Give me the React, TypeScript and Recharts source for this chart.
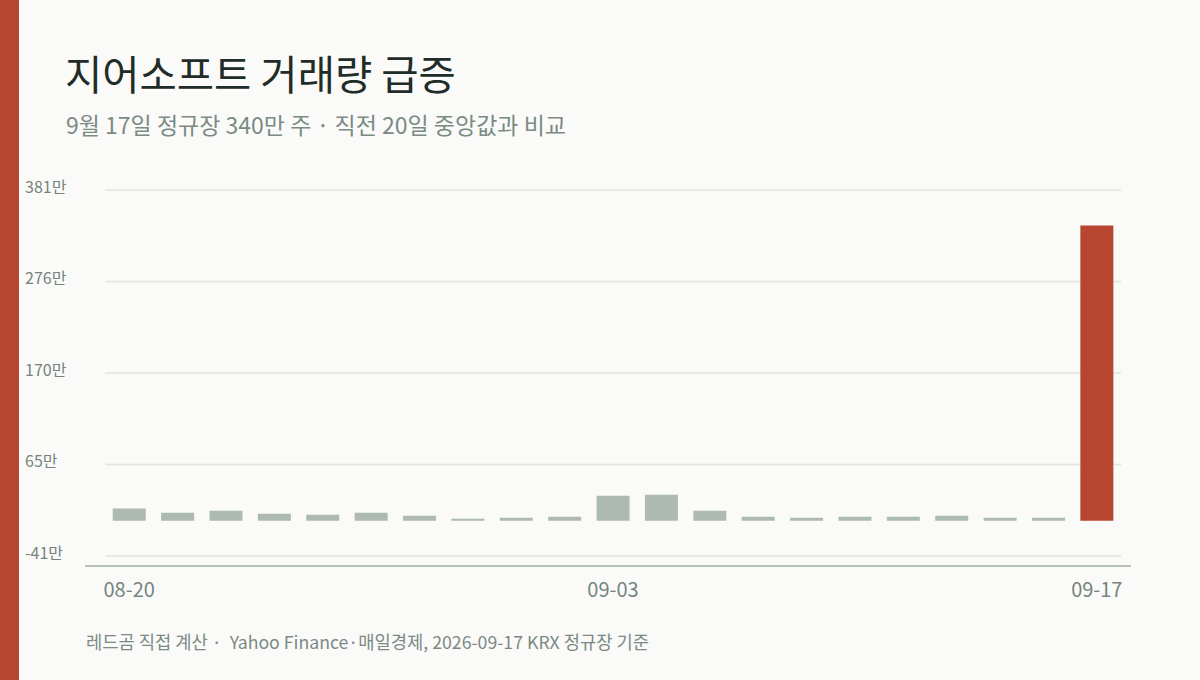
import React from "react"
import { Bar, BarChart, CartesianGrid, Cell, XAxis, YAxis } from "recharts"

// 정규장 거래량 (단위: 만 주)
const dates = [
  "08-20", "08-21", "08-24", "08-25", "08-26", "08-27", "08-28", "08-31",
  "09-01", "09-02", "09-03", "09-04", "09-07", "09-08", "09-09", "09-10",
  "09-11", "09-14", "09-15", "09-16", "09-17",
]
const volumes = [
  14, 9.2, 11.6, 8.1, 6.9, 9.2, 5.8, 2.3, 3.5, 4.6,
  28.9, 30, 11.6, 4.6, 3.5, 4.6, 4.6, 5.8, 3.5, 3.5, 340,
]
const highlightDate = "09-17"
const yTicks = [-40.6, 64.8, 170.2, 275.6, 381]
const yDomain = [-52.1, 381]

const data = dates.map((d, i) => ({ date: d, volume: volumes[i] }))

const FONT = '"Noto Sans CJK KR", "Noto Sans", sans-serif'
const RED = "#b8452f"
const GRAY = "#adbab2"

const YTick = (props: any) => {
  const { y, payload } = props
  return (
    <text x={25} y={y - 3} dy="0.35em" textAnchor="start" fontSize={16} fill="#75857e" fontFamily={FONT}>
      {Math.round(payload.value)}만
    </text>
  )
}

export default function App() {
  return (
    <div
      style={{
        position: "absolute",
        left: 0,
        top: 0,
        width: 1200,
        height: 680,
        background: "#fafaf8",
        fontFamily: FONT,
        overflow: "hidden",
      }}
    >
      <div style={{ position: "absolute", left: 0, top: 0, width: 19, height: 680, background: RED }} />
      <div
        style={{
          position: "absolute",
          left: 65,
          top: 51,
          fontSize: 40.5,
          lineHeight: "44px",
          color: "#1f2c28",
          whiteSpace: "nowrap",
        }}
      >
        지어소프트 거래량 급증
      </div>
      <div
        style={{
          position: "absolute",
          left: 66,
          top: 110,
          fontSize: 23,
          lineHeight: "28px",
          color: "#7b8a84",
          whiteSpace: "nowrap",
        }}
      >
        9월 17일 정규장 340만 주 · 직전 20일 중앙값과 비교
      </div>

      <div style={{ position: "absolute", left: 0, top: 0 }}>
        <BarChart
          width={1200}
          height={680}
          data={data}
          margin={{ top: 190, right: 79, left: 25, bottom: 74 }}
          barCategoryGap="16%"
        >
          <CartesianGrid vertical={false} stroke="#dfe5e1" strokeWidth={1.5} />
          <YAxis
            type="number"
            domain={yDomain}
            ticks={yTicks}
            width={80}
            axisLine={false}
            tickLine={false}
            tick={<YTick />}
          />
          <XAxis
            dataKey="date"
            interval={9}
            height={40}
            axisLine={false}
            tickLine={false}
            tickSize={0}
            tickMargin={17}
            tick={{ fill: "#75857e", fontSize: 20, fontFamily: FONT }}
          />
          <Bar dataKey="volume" isAnimationActive={false}>
            {data.map((d) => (
              <Cell key={d.date} fill={d.date === highlightDate ? RED : GRAY} />
            ))}
          </Bar>
        </BarChart>
      </div>

      {/* 축선 */}
      <div style={{ position: "absolute", left: 85, top: 565, width: 1046, height: 2, background: "#b6c2bb" }} />

      <div
        style={{
          position: "absolute",
          left: 86,
          top: 630,
          fontSize: 17.7,
          lineHeight: "22px",
          color: "#7b8a84",
          whiteSpace: "pre",
        }}
      >
        레드곰 직접 계산 ·  Yahoo Finance·매일경제, 2026-09-17 KRX 정규장 기준
      </div>
    </div>
  )
}
